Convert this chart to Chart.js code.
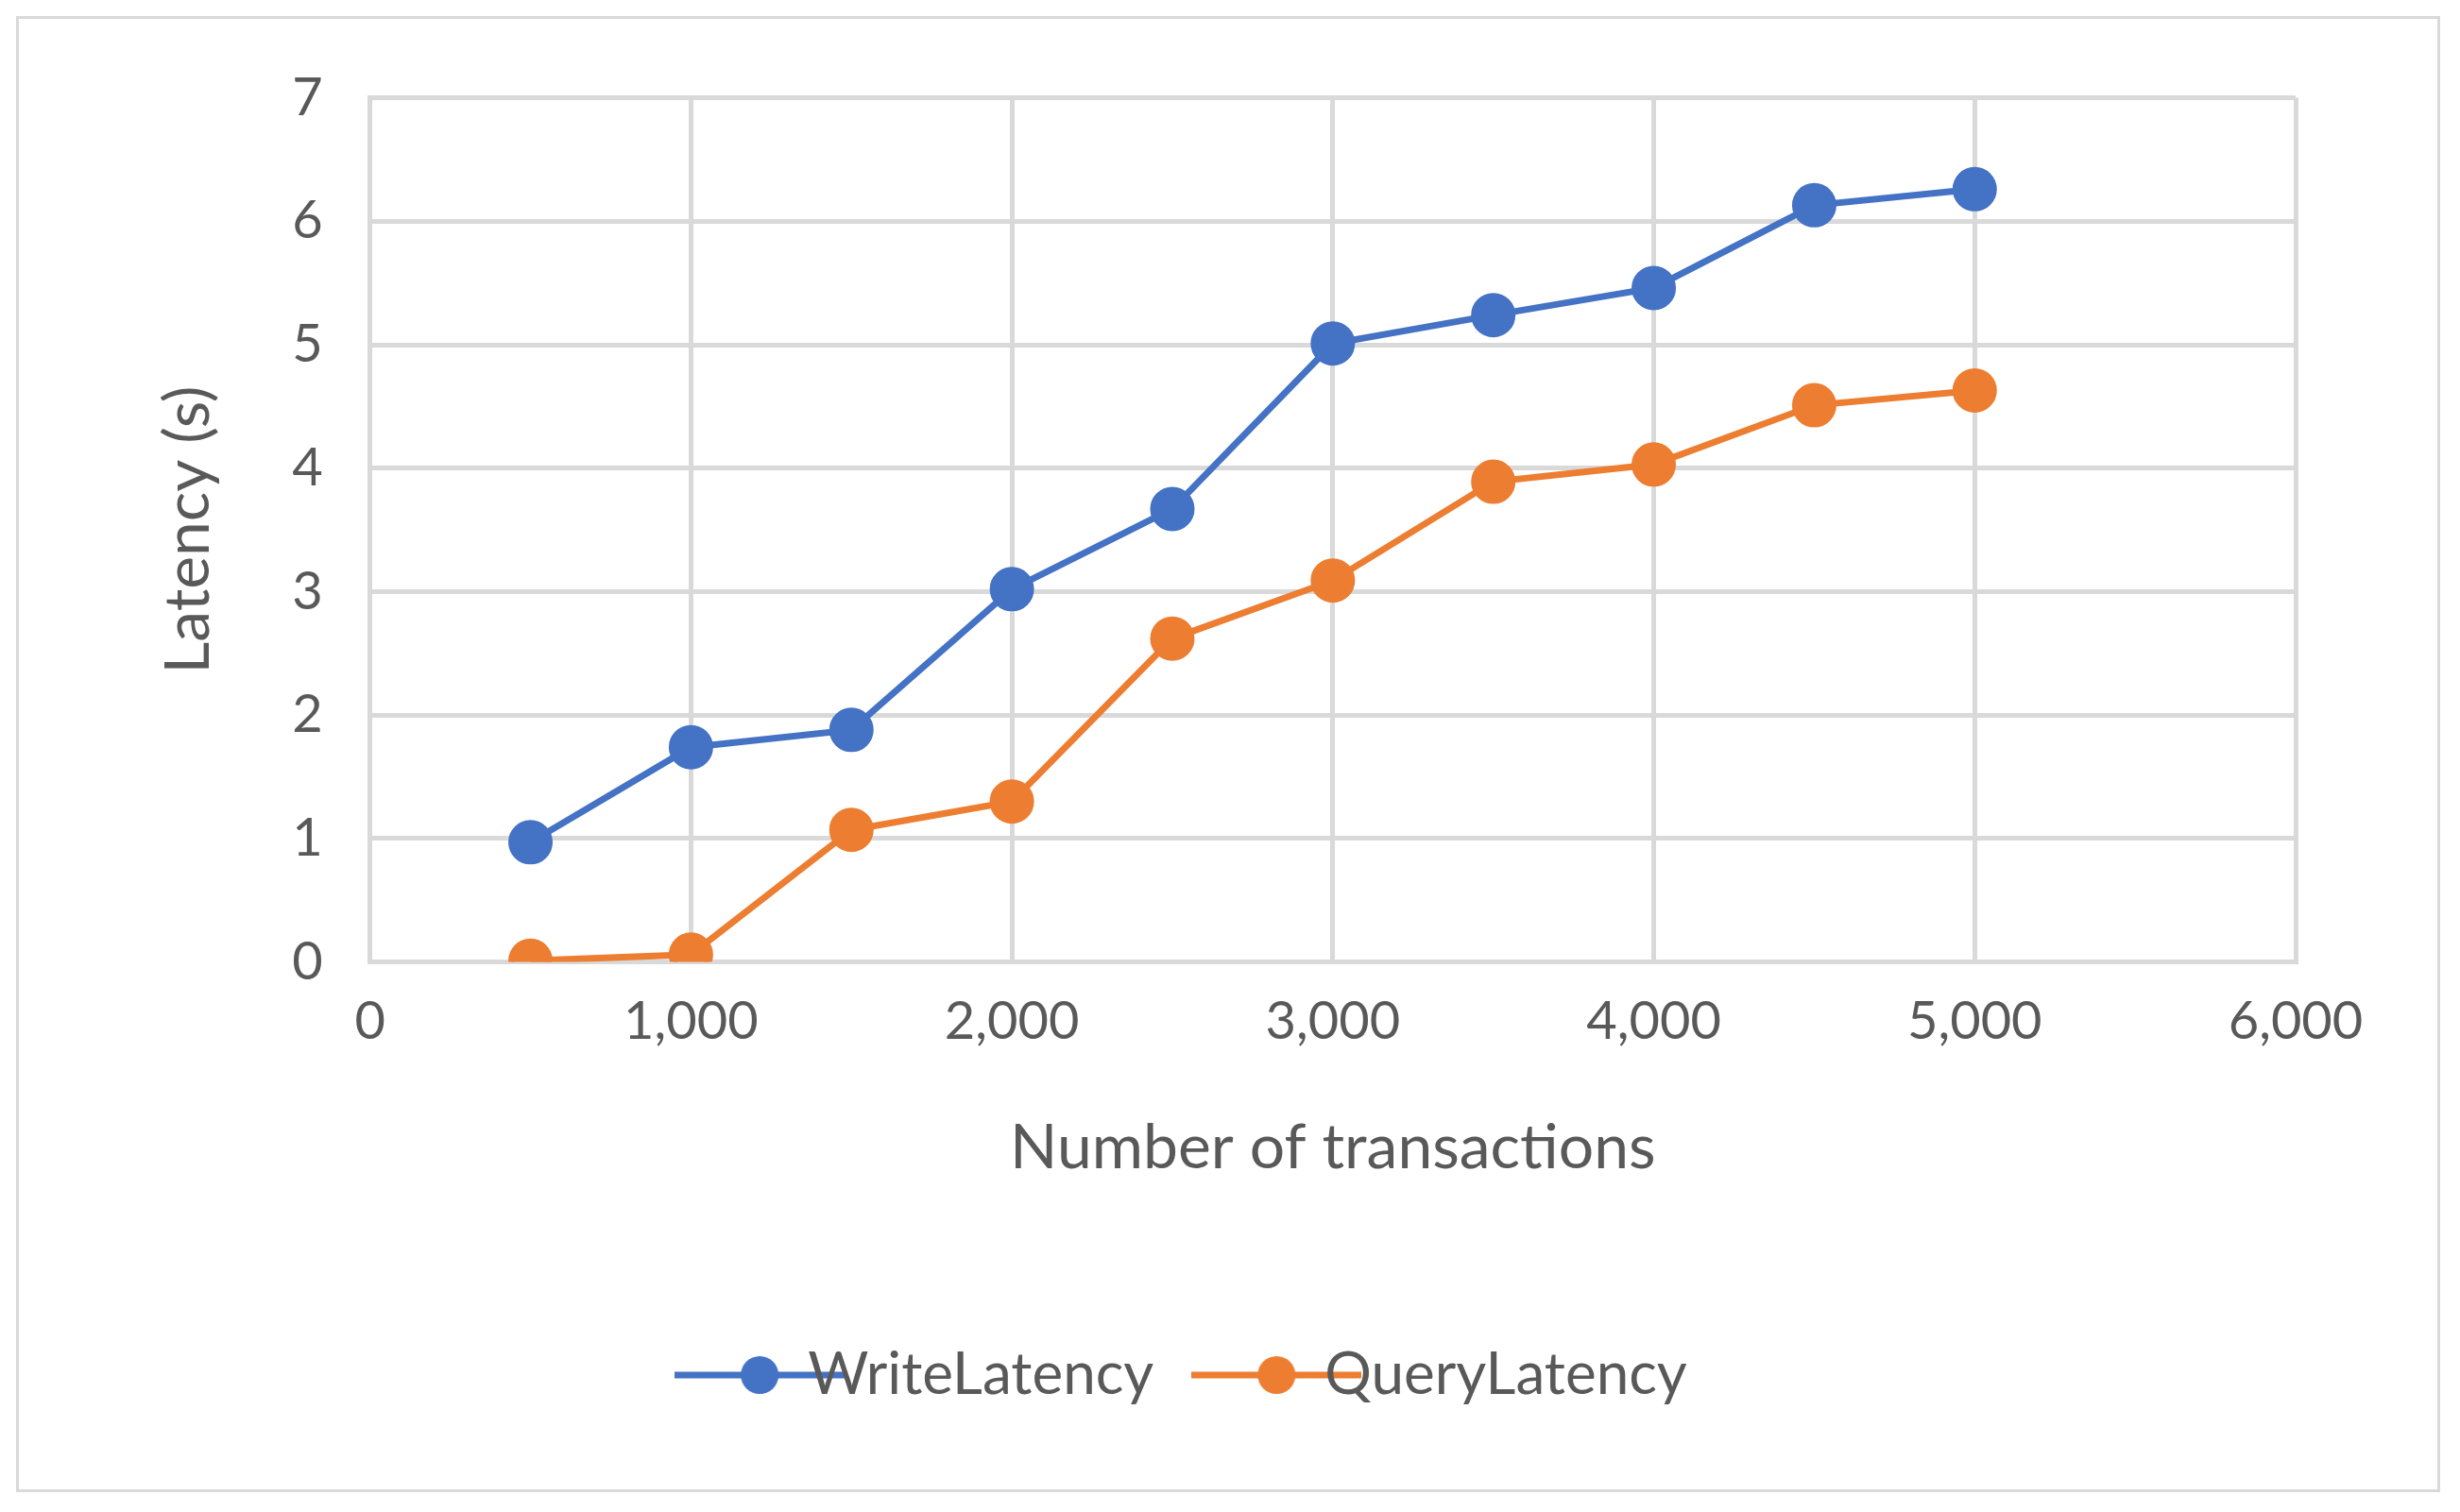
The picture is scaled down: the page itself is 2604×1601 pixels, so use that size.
<!DOCTYPE html>
<html>
<head>
<meta charset="utf-8">
<script src="https://cdn.jsdelivr.net/npm/chart.js@4/dist/chart.umd.min.js"></script>
<style>
  html, body { margin: 0; background: #fff; }
  #wrap { position: absolute; left: 17px; top: 17px; width: 2566px; height: 1563px; border: 3px solid #d9d9d9; box-sizing: border-box; }
</style>
</head>
<body>
<div id="wrap"><canvas id="chart" width="2560" height="1557"></canvas></div>
<script>
const transactions = [500, 1000, 1500, 2000, 2500, 3000, 3500, 4000, 4500, 5000];
const writeLatency = [0.97, 1.74, 1.88, 3.02, 3.67, 5.01, 5.24, 5.46, 6.13, 6.26];
const queryLatency = [0.01, 0.06, 1.07, 1.30, 2.62, 3.09, 3.89, 4.03, 4.51, 4.63];

const blue = "#4472c4";
const orange = "#ed7d31";
const textColor = "#595959";
const font = "Lato, 'Open Sans', sans-serif";

function legendIcon(color) {
    const c = document.createElement("canvas");
    c.width = 180; c.height = 44;
    const g = c.getContext("2d");
    g.strokeStyle = color; g.lineWidth = 7;
    g.beginPath(); g.moveTo(0, 22); g.lineTo(180, 22); g.stroke();
    g.fillStyle = color;
    g.beginPath(); g.arc(90, 22, 20, 0, Math.PI * 2); g.fill();
    return c;
}

const ds = (label, values, color) => ({
    label: label,
    data: transactions.map((t, i) => ({ x: t, y: values[i] })),
    borderColor: color,
    backgroundColor: color,
    borderWidth: 7,
    pointRadius: 20,
    pointHoverRadius: 20,
    pointStyle: "circle"
});

new Chart(document.getElementById("chart"), {
    type: "line",
    data: {
        datasets: [
            ds("WriteLatency", writeLatency, blue),
            ds("QueryLatency", queryLatency, orange)
        ]
    },
    options: {
        responsive: false,
        animation: false,
        devicePixelRatio: 1,
        layout: { padding: { left: 120, right: 150, top: 80, bottom: 80 } },
        plugins: {
            legend: {
                position: "bottom",
                labels: {
                    color: textColor,
                    font: { family: font, size: 62 },
                    usePointStyle: true,
                    padding: 110,
                    generateLabels: chart => chart.data.datasets.map((d, i) => ({
                        text: d.label,
                        fontColor: textColor,
                        pointStyle: legendIcon(d.borderColor),
                        datasetIndex: i,
                        lineWidth: 0
                    }))
                }
            },
            tooltip: { enabled: false }
        },
        scales: {
            x: {
                type: "linear",
                min: 0, max: 6000,
                ticks: { stepSize: 1000, color: textColor, font: { family: font, size: 56 }, padding: 30 },
                grid: { color: "#d9d9d9", lineWidth: 5, drawTicks: false },
                border: { color: "#d9d9d9", width: 5 },
                title: { display: true, text: "Number of transactions", color: textColor, font: { family: font, size: 66 }, padding: { top: 30, bottom: 60 } }
            },
            y: {
                min: 0, max: 7,
                ticks: { stepSize: 1, color: textColor, font: { family: font, size: 56 }, padding: 50 },
                grid: { color: "#d9d9d9", lineWidth: 5, drawTicks: false },
                border: { color: "#d9d9d9", width: 5 },
                title: { display: true, text: "Latency (s)", color: textColor, font: { family: font, size: 66 }, padding: 20 }
            }
        }
    }
});
</script>
</body>
</html>
